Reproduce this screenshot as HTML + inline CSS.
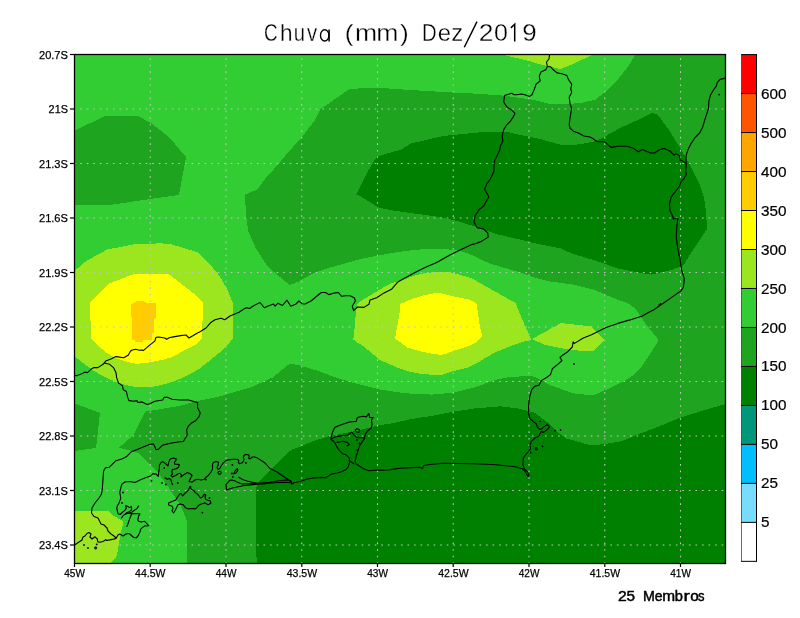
<!DOCTYPE html>
<html><head><meta charset="utf-8"><title>Chuva (mm) Dez/2019</title>
<style>html,body{margin:0;padding:0;background:#fff;}svg{display:block;will-change:transform;}</style>
</head><body>
<svg width="800" height="618" viewBox="0 0 800 618">
<rect width="800" height="618" fill="#fff"/>
<rect x="74" y="54" width="651" height="509" fill="#32cd32"/>
<g shape-rendering="crispEdges">
<polygon fill="#1ea41e" points="186.6,563.0 725.0,563.0 725.0,54.0 636.0,54.0 627.0,68.0 618.0,79.4 606.6,90.8 595.3,99.8 579.4,103.2 561.0,104.3 550.0,104.0 534.5,100.0 504.7,95.7 475.0,93.6 432.5,91.4 400.0,89.3 385.0,88.2 361.7,88.2 349.0,89.3 336.0,98.4 325.6,105.7 320.0,109.5 315.0,120.0 302.0,137.0 285.0,156.0 278.9,163.8 266.0,177.6 257.6,189.3 244.9,194.6 246.0,213.7 248.0,230.7 255.5,247.7 268.0,267.0 289.5,285.0 298.0,281.9 315.0,272.3 332.0,267.0 360.0,259.2 375.0,256.2 390.0,253.3 405.0,251.0 420.0,249.5 440.5,248.5 460.0,250.8 470.5,254.5 479.5,259.0 490.0,263.5 505.0,268.0 520.0,272.5 535.0,277.8 550.0,281.5 572.6,284.5 595.3,290.2 613.4,298.1 629.2,303.8 636.0,309.4 645.1,323.0 658.7,340.0 649.6,354.7 640.6,368.3 633.8,375.1 624.7,380.7 611.0,387.5 593.0,395.5 572.6,393.2 550.0,385.0 534.5,376.6 526.0,376.0 509.0,377.2 496.2,379.7 475.0,387.2 453.7,392.5 432.5,394.6 411.0,393.6 400.0,392.5 378.7,389.3 357.5,384.0 336.0,377.6 319.0,371.2 298.0,364.9 289.5,363.8 272.5,377.6 251.0,387.3 240.0,390.4 228.3,393.8 218.7,396.7 197.5,401.0 180.5,405.7 145.4,411.6 133.7,435.0 118.9,447.7 138.0,452.7 159.0,474.0 172.2,492.6 180.3,504.7 186.4,519.0 187.4,531.0 187.0,545.0"/>
<polygon fill="#1ea41e" points="74.0,131.0 105.0,116.0 138.0,116.0 151.0,123.0 169.0,137.0 186.0,157.0 179.0,195.0 150.0,199.0 110.0,205.0 74.0,205.0"/>
<polygon fill="#1ea41e" points="74.0,403.0 100.0,413.0 96.0,448.0 74.0,451.0"/>
<polygon fill="#008000" points="356.4,194.6 368.0,171.0 376.6,157.0 385.0,154.0 400.0,150.0 411.2,143.5 443.0,136.0 485.6,131.8 506.9,131.8 520.0,135.0 540.0,139.0 562.0,145.0 580.0,144.4 596.0,141.0 604.0,137.0 620.0,128.0 640.0,119.0 652.0,113.0 658.0,115.0 669.0,130.0 677.0,143.0 685.0,156.0 690.0,165.0 697.0,178.5 700.0,185.0 704.0,197.0 706.0,211.0 707.0,229.0 699.4,240.2 690.4,253.8 683.6,265.1 672.3,269.6 651.9,274.6 640.6,273.0 618.0,268.5 595.3,260.6 572.6,253.8 560.0,248.2 550.0,246.3 535.0,243.4 520.0,239.6 496.2,234.0 475.0,226.5 453.7,220.0 432.5,215.9 410.0,213.0 400.0,211.5 390.0,210.0 380.0,208.0 377.0,206.5 370.0,202.0 360.0,196.0"/>
<polygon fill="#008000" points="256.6,563.0 255.5,491.0 257.6,482.5 272.5,467.6 291.6,449.5 300.0,447.0 310.7,442.0 320.0,439.0 327.7,436.5 340.0,434.0 350.0,432.0 360.0,430.0 370.0,427.5 380.0,425.0 390.0,423.8 411.2,419.0 432.5,415.9 453.7,411.6 475.0,408.4 500.5,406.3 517.5,408.4 534.5,412.7 547.0,422.0 556.0,431.0 566.5,438.5 591.3,445.4 605.0,444.0 621.6,441.3 638.0,434.4 660.0,426.1 679.4,417.9 701.4,411.0 725.0,404.1 725.0,563.0"/>
<polygon fill="#9be61e" points="74.0,271.3 86.4,260.9 107.2,249.5 134.2,244.3 161.1,243.3 171.5,244.3 198.5,252.6 208.9,263.0 219.2,275.4 227.5,289.9 232.7,302.4 233.0,338.0 228.0,345.0 219.2,352.8 208.0,362.0 198.5,369.4 188.0,375.0 177.8,379.8 167.0,383.5 157.0,386.0 147.0,387.5 136.3,387.1 126.0,385.0 115.5,381.9 105.0,377.0 94.8,371.5 85.0,364.5 74.0,356.0"/>
<polygon fill="#9be61e" points="357.0,304.0 362.5,300.0 375.0,292.5 387.5,285.0 397.5,281.2 406.2,278.8 412.5,276.2 421.2,273.8 431.2,272.5 440.0,271.9 450.0,272.2 460.0,274.8 472.0,278.5 482.5,284.5 492.4,290.0 502.6,295.8 515.7,303.1 521.5,317.7 527.3,330.8 531.0,339.5 521.5,342.4 512.8,345.3 498.2,351.1 486.6,357.0 477.8,362.8 469.1,367.1 454.6,370.8 442.0,375.0 432.5,374.8 420.0,373.8 407.5,371.2 397.5,367.5 388.8,363.8 380.0,360.0 372.5,353.8 365.0,347.5 357.5,342.5 353.1,339.4 353.8,337.5 355.0,322.5 356.2,310.0"/>
<polygon fill="#9be61e" points="532.0,339.0 545.0,332.0 561.0,323.0 591.0,326.4 604.3,340.0 593.0,351.3 572.6,350.2 560.0,348.0 545.0,345.0"/>
<polygon fill="#9be61e" points="499.0,54.0 527.5,60.5 542.5,65.0 560.5,69.0 574.0,63.5 594.0,54.0"/>
<polygon fill="#9be61e" points="74.0,511.0 108.0,511.0 114.0,516.0 123.0,521.0 122.5,526.0 121.6,530.0 119.9,538.5 118.8,544.2 117.7,551.5 116.0,557.2 112.0,561.7 110.9,563.0 74.0,563.0"/>
<polygon fill="#ffff00" points="90.0,303.0 108.0,284.0 134.0,274.0 168.0,274.0 170.0,275.0 197.0,296.0 203.0,303.0 202.0,339.0 196.0,344.6 183.0,351.0 172.0,357.2 162.7,359.8 149.7,362.4 136.8,363.9 126.4,361.7 114.7,357.8 105.7,352.0 97.9,345.5 91.0,338.0"/>
<polygon fill="#ffff00" points="400.0,303.8 403.8,302.5 412.5,298.8 425.0,295.0 437.5,292.5 440.0,292.9 454.6,296.6 469.1,299.5 476.4,303.1 477.8,311.8 479.3,323.5 482.2,336.6 476.4,342.4 469.1,346.0 454.6,350.4 445.0,354.3 440.0,354.8 432.5,353.8 420.0,351.2 407.5,347.5 398.8,341.2 395.0,338.8 395.6,335.0 397.5,325.0 400.0,310.0"/>
<polygon fill="#ffcc00" points="131.3,304.0 135.0,302.5 136.0,301.3 144.0,301.3 146.0,302.5 150.0,303.3 156.0,303.5 155.5,318.0 153.7,319.0 153.7,332.5 152.0,333.0 152.0,340.0 143.0,340.0 142.7,341.5 135.5,341.5 135.0,340.0 132.0,340.0 132.0,317.0 131.3,316.5"/>
</g>
<g fill="none" stroke="#c4c4c4" stroke-width="1.1" stroke-dasharray="1.6 4.945">
<line x1="150.25" y1="563.85" x2="150.25" y2="54"/>
<line x1="226.00" y1="563.85" x2="226.00" y2="54"/>
<line x1="301.75" y1="563.85" x2="301.75" y2="54"/>
<line x1="377.50" y1="563.85" x2="377.50" y2="54"/>
<line x1="453.25" y1="563.85" x2="453.25" y2="54"/>
<line x1="529.00" y1="563.85" x2="529.00" y2="54"/>
<line x1="604.75" y1="563.85" x2="604.75" y2="54"/>
<line x1="680.50" y1="563.85" x2="680.50" y2="54"/>
<line x1="73.70" y1="109.00" x2="725" y2="109.00"/>
<line x1="73.70" y1="163.50" x2="725" y2="163.50"/>
<line x1="73.70" y1="218.00" x2="725" y2="218.00"/>
<line x1="73.70" y1="272.50" x2="725" y2="272.50"/>
<line x1="73.70" y1="327.00" x2="725" y2="327.00"/>
<line x1="73.70" y1="381.50" x2="725" y2="381.50"/>
<line x1="73.70" y1="436.00" x2="725" y2="436.00"/>
<line x1="73.70" y1="490.50" x2="725" y2="490.50"/>
<line x1="73.70" y1="545.00" x2="725" y2="545.00"/>
</g>
<g fill="none" stroke="#000" stroke-width="1.1" stroke-linejoin="round" stroke-linecap="round">
<polyline points="547.4,66.5 545.8,69.7 540.9,72.1 539.3,76.2 540.1,81.0 536.0,84.3 534.4,89.1 532.0,94.8 529.6,96.4 524.7,94.8 521.5,94.0 516.6,94.8 514.2,94.8 511.8,93.2 508.5,94.3 504.5,95.6 503.7,102.0 506.9,106.9 511.8,110.2 515.0,113.4 513.4,116.6 510.2,121.5 506.9,124.7 503.7,129.6 502.1,136.0 502.9,140.9 500.5,145.8 499.6,150.6 497.2,155.5 494.8,160.0 494.0,164.7 494.0,171.2 490.0,179.7 486.7,184.0 484.6,189.3 488.8,196.7 483.5,206.3 479.2,209.5 475.0,216.0 474.0,222.2 477.1,227.6 483.5,229.0 487.7,232.9 488.2,237.1 481.4,241.4 476.0,243.5 471.8,244.6 460.1,249.9 449.5,255.2 436.7,262.6 426.1,266.9 415.5,272.2 402.7,279.2 400.0,280.8 397.9,281.9 391.5,289.3 383.0,293.6 376.6,297.8 370.0,300.0 369.0,304.2 363.9,307.4 357.5,307.0 353.7,310.6 352.2,306.3 355.4,301.0 354.3,297.8 350.0,295.7 345.8,295.7 341.6,296.3 338.4,292.5 334.0,293.1 328.8,294.6 325.6,292.5 321.4,292.5 320.0,293.5 311.0,301.0 305.0,304.0 302.0,303.7 299.0,301.0 296.0,304.0 290.8,306.2 287.0,300.2 282.5,305.5 278.0,303.2 275.0,306.2 273.5,304.0 267.5,306.2 264.5,307.8 260.0,302.5 254.0,305.5 249.5,308.5 246.5,307.8 243.5,309.2 239.0,312.2 230.0,316.0 224.8,319.8 221.0,318.2 215.0,319.8 210.5,322.8 206.0,328.0 200.0,331.8 197.5,333.0 189.0,338.0 186.0,335.0 180.5,335.6 172.0,337.1 169.2,337.7 166.6,339.3 164.7,338.0 158.9,337.0 156.3,337.3 155.6,338.0 155.0,340.9 148.5,346.1 143.3,350.6 142.3,350.0 139.4,350.3 135.5,349.3 131.7,350.3 130.4,351.3 128.4,355.0 123.8,357.8 116.0,356.6 110.9,359.1 105.7,361.1 103.1,364.3 97.9,367.6 94.0,367.6 91.4,368.9 87.5,372.7 85.0,372.1 82.4,373.4 77.2,375.6 74.5,375.5"/>
<polyline points="547.4,66.5 546.5,62.0 549.0,59.0 549.5,54.5"/>
<polyline points="547.4,66.5 550.6,66.8 553.0,69.5 557.1,72.9 562.0,73.8 566.8,75.4 568.4,79.4 571.7,84.3 570.8,89.1 571.7,92.4 569.2,97.2 570.0,103.7 571.7,108.5 570.8,113.4 570.0,118.3 569.2,124.7 570.0,128.0 573.3,131.2 578.3,133.0 584.0,136.0 590.8,137.2 597.5,141.7 604.3,141.7 611.1,147.4 618.0,146.2 627.0,146.2 633.8,148.5 638.3,151.9 642.4,149.4 650.5,153.0 654.6,153.0 659.4,149.8 664.3,148.4 669.9,151.0 674.0,155.0 676.4,153.8 679.6,155.9 680.0,159.9 682.0,160.6 685.7,163.1"/>
<polyline points="104.4,363.0 109.6,364.3 113.5,367.6 116.0,372.7 116.7,377.9 118.6,383.1 122.5,385.7 123.2,389.6 126.4,391.5 127.7,397.4 129.0,400.6 134.2,401.2 136.8,400.6 138.0,402.5 142.0,401.9 147.1,404.5 149.7,403.8 154.9,401.2 162.7,400.0 164.0,397.4 167.9,397.4 172.0,399.3 180.0,400.0 188.5,400.0 197.6,402.6 197.6,407.8 200.2,413.0 198.9,416.8 195.6,420.7 191.1,423.3 188.5,425.9 186.6,429.8 187.2,435.0 185.3,438.2 183.3,441.5 178.1,442.0 172.0,443.0 167.7,443.9 162.5,445.2 158.7,449.1 156.1,449.7 153.5,443.9 149.6,444.5 144.4,446.5 136.6,449.7 131.5,451.7 126.3,456.8 122.4,458.8 115.9,460.7 112.0,464.6 109.4,467.2 105.5,467.8 103.6,471.1 103.0,478.9 102.3,489.2 101.5,494.0 99.0,498.0 95.0,503.0 92.0,508.0 91.5,513.0 94.0,516.5 98.0,518.0 100.0,522.0 101.0,524.0 104.0,525.0 107.0,528.0 108.0,531.0 111.0,534.0 114.0,536.0 116.0,538.0"/>
<polyline points="74.5,545.0 76.0,544.0 79.0,542.0 82.0,540.0 83.0,537.0 85.0,536.0 87.0,533.5 89.0,532.5 91.0,534.0 90.0,537.0 92.0,539.0 95.0,536.8 97.3,539.0 97.8,541.9 100.1,542.2 103.5,541.3 105.8,539.6 106.3,540.5 109.7,539.9 113.7,539.1 116.0,538.5 118.0,535.0 120.0,534.0 123.0,536.0 126.0,534.0 129.0,533.5 131.0,535.0 133.0,537.0 136.0,538.0 138.0,536.0 140.0,532.0 140.5,529.4 142.6,527.4 144.6,526.0 148.7,525.7 146.6,523.3 144.6,521.3 141.2,522.0 138.5,521.3 137.8,519.9 138.5,516.5 139.9,513.8 135.8,513.5 131.7,513.8 129.7,513.1 125.6,513.8 122.9,515.9 121.5,517.9"/>
<polyline points="131.7,513.8 130.3,517.2 129.0,520.6 127.6,524.7 126.9,526.4"/>
<polyline points="125.6,513.8 129.7,513.1 132.4,511.8 135.1,509.7 137.1,508.4 138.5,506.0"/>
<polyline points="120.2,514.5 122.2,512.5 124.9,510.4 126.3,508.4 125.6,505.7 127.6,506.3 129.7,507.7 131.4,506.3 131.7,509.1 131.0,510.4 129.0,511.8 127.0,512.5 125.6,513.8"/>
<polyline points="120.2,514.5 118.1,513.8 117.4,511.1 116.8,508.4 117.4,505.7 118.8,503.6 119.8,500.9 120.8,498.2 120.2,494.8 119.8,492.0 120.8,488.0 121.0,487.0 122.0,484.0 125.0,482.0 130.0,481.5 135.0,482.5 140.0,480.0 146.0,477.5 150.0,476.3 153.0,473.6 156.0,474.0 158.3,476.3 158.6,472.5 159.4,468.8 159.4,465.0 161.3,462.4 162.8,461.6 165.0,463.1 168.0,465.8 168.8,462.0 170.3,459.0 173.3,457.9 176.3,459.0 175.5,461.3 174.4,462.0 174.8,464.3 177.0,464.3 179.3,464.6 178.5,467.3 176.3,468.8 172.5,469.5 171.8,471.8 172.5,474.0 171.0,475.5 172.5,477.0 175.5,475.5 177.8,474.0 180.0,473.3 181.5,474.8 180.8,477.0 183.8,474.8 187.5,472.5 190.5,474.0 192.0,475.5 190.5,478.5 189.0,481.5 192.0,482.3 195.0,480.0 198.0,479.3 201.0,480.0 204.0,479.3 206.3,477.0 208.0,475.8 211.0,472.0 212.5,469.0 212.5,464.5 213.3,462.6 216.3,461.5 218.5,462.3 218.1,465.3 217.0,467.5 218.1,469.4 220.0,468.3 221.5,465.3 223.8,462.3 226.0,460.4 229.8,459.6 235.0,459.3 238.0,459.6 238.8,461.1 238.4,462.6 239.5,463.8 241.8,463.0 243.3,461.5 244.0,459.3 243.3,457.8 244.0,455.5 245.5,454.4 248.5,454.8 249.3,456.3 248.5,458.1 250.0,458.9 252.3,457.0 254.5,457.0 257.5,458.1 260.5,460.0 265.0,463.0 270.0,468.5 277.5,472.2 285.0,477.5 291.0,481.2 291.7,484.2 294.0,482.7 300.0,481.5 306.5,479.3 313.0,478.0 319.4,477.4 325.9,477.6 331.3,474.1 337.0,473.0 341.5,471.8 346.0,469.6 348.3,466.7 349.4,462.8 349.4,458.2 346.0,454.8 342.6,453.7 339.3,450.3 337.0,446.9 334.7,442.4 330.8,439.0 332.5,432.2 334.7,427.6 338.1,426.0 342.6,424.3 349.4,422.0 356.2,421.4 357.4,417.5 363.0,416.3 366.4,416.9 368.7,413.5 369.8,417.5 373.2,417.5 371.5,419.7 372.1,424.3 371.5,427.6 367.6,431.0 365.3,434.4 364.2,439.0 361.9,442.4 359.6,445.8 358.5,449.2 357.4,452.6 356.2,456.0 355.1,461.6 356.2,463.9 359.6,466.2 363.0,468.4 368.7,470.7 376.6,470.1 383.4,470.1 390.0,469.6 400.0,468.3 411.2,467.6 420.0,467.3 422.3,468.6 424.0,465.5 430.0,464.5 443.0,463.3 475.0,463.7 496.2,464.7 515.5,466.8 522.3,468.7 525.2,471.7 528.2,476.5 529.1,474.6 527.2,471.7 524.3,468.7 522.9,464.9 523.3,458.1 526.3,453.8 528.8,451.3 530.6,448.8 530.0,445.0 531.3,441.3 535.0,438.0 538.8,436.3 541.3,431.3 543.1,432.5 545.0,431.3 548.1,428.8 549.4,426.9 547.5,424.4 543.8,426.9 541.9,428.8 540.0,429.4 537.5,427.5 536.3,423.8 533.8,421.9 530.0,418.8 528.8,413.8 528.5,407.5 529.1,400.8 530.1,395.0 532.0,389.1 535.0,386.2 538.8,385.2 541.7,380.4 546.6,377.5 550.5,374.6 552.4,368.7 558.3,363.9 562.0,360.5 560.0,357.5 561.8,355.8 567.0,352.3 572.3,347.0 573.1,341.8 574.0,343.5 575.8,342.6 582.8,338.3 591.5,334.8 605.5,327.8 617.8,323.4 630.0,319.9 642.3,315.9 649.3,312.0 654.5,309.4 658.0,306.8 663.3,303.3 672.0,297.1 680.8,291.0 683.4,287.5 684.3,278.8 681.6,270.0 680.2,260.6 677.9,249.2 676.3,237.9 676.8,226.6 677.9,218.7 673.4,218.7 672.3,215.3 670.0,210.8 669.5,204.0 671.1,197.2 674.5,192.6 679.0,187.0 681.3,181.3 684.1,178.5 686.5,174.0 685.7,172.0 686.1,164.8 685.9,158.3 686.2,155.1 688.2,149.3 691.1,143.5 695.0,137.7 699.8,132.8 702.7,127.0 704.7,120.2 706.6,114.4 708.5,108.5 708.9,100.8 710.5,95.0 713.4,90.1 716.3,86.2 717.3,82.3 720.2,79.4 724.1,78.4 725.0,78.0"/>
<polyline points="330.8,439.0 335.9,436.7 342.6,435.6 348.3,435.0 351.7,432.2 354.0,435.0 357.4,437.8 361.9,437.8 364.7,438.4"/>
<polyline points="337.0,442.4 342.6,441.2 347.2,442.4 349.4,444.6 347.2,445.8"/>
<polyline points="355.1,430.0 357.0,428.8 359.6,429.5 359.0,432.2 356.5,432.0 355.1,430.0"/>
<polyline points="349.4,460.5 352.0,462.5 354.0,463.9"/>
<polyline points="226.0,484.5 229.8,480.3 232.0,480.0 235.0,481.0 238.0,482.5 242.5,484.0 255.0,483.6 270.0,482.2 279.0,480.7 288.0,479.9 291.0,481.2"/>
<polyline points="226.0,484.5 226.5,490.0 232.5,488.0 243.0,485.7 255.0,484.4 270.0,482.9 285.0,482.2 291.0,482.7"/>
<polyline points="238.8,477.3 242.5,479.5 247.0,481.0 253.0,482.5 257.5,483.3 265.0,484.0"/>
<polyline points="165.0,477.8 167.3,479.3 169.5,478.5 171.0,480.0 171.8,483.0 172.5,484.5"/>
<polyline points="233.6,474.0 235.0,471.0 237.5,468.5 237.8,470.5 236.0,473.0 233.6,474.0"/>
<polyline points="190.0,486.8 188.5,489.8 187.0,491.3 184.8,493.5 182.5,495.8 181.0,493.5 179.5,494.3 177.3,497.3 175.8,499.9 172.0,501.4 168.6,502.9 168.6,505.1 172.0,506.3 173.1,508.5 172.0,510.8 173.5,513.0 175.0,510.8 176.5,507.8 178.0,504.8 180.3,504.0 183.3,504.8 185.5,507.8 188.5,508.9 192.3,508.5 195.3,508.9 197.5,507.0 198.3,505.5 201.3,504.0 205.0,502.9 208.0,504.8 211.0,503.3 210.3,501.0 208.0,500.3 205.8,499.5 205.0,497.3 205.8,495.0 204.3,494.3 202.0,497.3 200.5,498.0 198.3,495.0 196.8,493.5 195.3,492.8 194.5,491.3 192.3,489.8 190.8,488.3 190.0,486.8"/>
<circle cx="219.6" cy="472.8" r="1.6"/>
<circle cx="95.6" cy="548" r="0.9"/>
<circle cx="536.3" cy="448.8" r="1.1"/>
<circle cx="202.4" cy="512.6" r="0.9" fill="#000" stroke="none"/>
<circle cx="209.5" cy="498" r="0.9" fill="#000" stroke="none"/>
<circle cx="123" cy="492.5" r="0.9" fill="#000" stroke="none"/>
<circle cx="122" cy="503" r="0.9" fill="#000" stroke="none"/>
<circle cx="719.2" cy="94.6" r="0.9" fill="#000" stroke="none"/>
<circle cx="574" cy="364" r="0.9" fill="#000" stroke="none"/>
<circle cx="540" cy="421.3" r="0.9" fill="#000" stroke="none"/>
<circle cx="555" cy="430.6" r="0.9" fill="#000" stroke="none"/>
<circle cx="560.6" cy="430" r="0.9" fill="#000" stroke="none"/>
<circle cx="542.5" cy="446.3" r="0.9" fill="#000" stroke="none"/>
<circle cx="530.6" cy="452.5" r="0.9" fill="#000" stroke="none"/>
<circle cx="232.4" cy="464.9" r="0.9" fill="#000" stroke="none"/>
<circle cx="245.9" cy="463" r="0.9" fill="#000" stroke="none"/>
<circle cx="232.8" cy="476.9" r="0.9" fill="#000" stroke="none"/>
<circle cx="232" cy="473.5" r="0.9" fill="#000" stroke="none"/>
<circle cx="205.8" cy="479.5" r="0.9" fill="#000" stroke="none"/>
<circle cx="162" cy="483" r="0.9" fill="#000" stroke="none"/>
<circle cx="165.8" cy="484.5" r="0.9" fill="#000" stroke="none"/>
<circle cx="177.8" cy="483" r="0.9" fill="#000" stroke="none"/>
<circle cx="151.5" cy="480.8" r="0.9" fill="#000" stroke="none"/>
<circle cx="164.3" cy="468" r="0.9" fill="#000" stroke="none"/>
<circle cx="190.5" cy="486.8" r="0.9" fill="#000" stroke="none"/>
<circle cx="96.7" cy="544.4" r="0.9" fill="#000" stroke="none"/>
<circle cx="84" cy="545" r="0.9" fill="#000" stroke="none"/>
<circle cx="88" cy="548" r="0.9" fill="#000" stroke="none"/>
<circle cx="357" cy="440" r="0.9" fill="#000" stroke="none"/>
<circle cx="359.6" cy="443.5" r="0.9" fill="#000" stroke="none"/>
<circle cx="357.4" cy="450.3" r="0.9" fill="#000" stroke="none"/>
<circle cx="368.7" cy="414.5" r="0.9" fill="#000" stroke="none"/>
<circle cx="673.5" cy="218.5" r="0.9" fill="#000" stroke="none"/>
<circle cx="659.5" cy="305" r="0.9" fill="#000" stroke="none"/>
<circle cx="660.5" cy="304" r="0.9" fill="#000" stroke="none"/>
</g>
<rect x="74.5" y="54.5" width="651" height="509" fill="none" stroke="#000" stroke-width="1.3"/>
<g stroke="#000" stroke-width="1.2"><line x1="70" y1="54.50" x2="74" y2="54.50"/><line x1="70" y1="109.00" x2="74" y2="109.00"/><line x1="70" y1="163.50" x2="74" y2="163.50"/><line x1="70" y1="218.00" x2="74" y2="218.00"/><line x1="70" y1="272.50" x2="74" y2="272.50"/><line x1="70" y1="327.00" x2="74" y2="327.00"/><line x1="70" y1="381.50" x2="74" y2="381.50"/><line x1="70" y1="436.00" x2="74" y2="436.00"/><line x1="70" y1="490.50" x2="74" y2="490.50"/><line x1="70" y1="545.00" x2="74" y2="545.00"/><line x1="74.5" y1="563" x2="74.5" y2="567"/><line x1="150.2" y1="563" x2="150.2" y2="567"/><line x1="226.0" y1="563" x2="226.0" y2="567"/><line x1="301.8" y1="563" x2="301.8" y2="567"/><line x1="377.5" y1="563" x2="377.5" y2="567"/><line x1="453.2" y1="563" x2="453.2" y2="567"/><line x1="529.0" y1="563" x2="529.0" y2="567"/><line x1="604.8" y1="563" x2="604.8" y2="567"/><line x1="680.5" y1="563" x2="680.5" y2="567"/></g>
<g font-family="&quot;Liberation Sans&quot;, sans-serif" font-size="11.7" fill="#000" stroke="#000" stroke-width="0.25"><text x="67.9" y="58.7" text-anchor="end" textLength="28.9" lengthAdjust="spacingAndGlyphs">20.7S</text><text x="67.9" y="113.2" text-anchor="end" textLength="19.3" lengthAdjust="spacingAndGlyphs">21S</text><text x="67.9" y="167.7" text-anchor="end" textLength="28.9" lengthAdjust="spacingAndGlyphs">21.3S</text><text x="67.9" y="222.2" text-anchor="end" textLength="28.9" lengthAdjust="spacingAndGlyphs">21.6S</text><text x="67.9" y="276.7" text-anchor="end" textLength="28.9" lengthAdjust="spacingAndGlyphs">21.9S</text><text x="67.9" y="331.2" text-anchor="end" textLength="28.9" lengthAdjust="spacingAndGlyphs">22.2S</text><text x="67.9" y="385.7" text-anchor="end" textLength="28.9" lengthAdjust="spacingAndGlyphs">22.5S</text><text x="67.9" y="440.2" text-anchor="end" textLength="28.9" lengthAdjust="spacingAndGlyphs">22.8S</text><text x="67.9" y="494.7" text-anchor="end" textLength="28.9" lengthAdjust="spacingAndGlyphs">23.1S</text><text x="67.9" y="549.2" text-anchor="end" textLength="28.9" lengthAdjust="spacingAndGlyphs">23.4S</text><text x="74.6" y="577.1" text-anchor="middle" textLength="20.7" lengthAdjust="spacingAndGlyphs">45W</text><text x="150.3" y="577.1" text-anchor="middle" textLength="30.4" lengthAdjust="spacingAndGlyphs">44.5W</text><text x="226.1" y="577.1" text-anchor="middle" textLength="20.7" lengthAdjust="spacingAndGlyphs">44W</text><text x="301.9" y="577.1" text-anchor="middle" textLength="30.4" lengthAdjust="spacingAndGlyphs">43.5W</text><text x="377.6" y="577.1" text-anchor="middle" textLength="20.7" lengthAdjust="spacingAndGlyphs">43W</text><text x="453.4" y="577.1" text-anchor="middle" textLength="30.4" lengthAdjust="spacingAndGlyphs">42.5W</text><text x="529.1" y="577.1" text-anchor="middle" textLength="20.7" lengthAdjust="spacingAndGlyphs">42W</text><text x="604.9" y="577.1" text-anchor="middle" textLength="30.4" lengthAdjust="spacingAndGlyphs">41.5W</text><text x="680.6" y="577.1" text-anchor="middle" textLength="20.7" lengthAdjust="spacingAndGlyphs">41W</text></g>
<g font-family="&quot;Liberation Sans&quot;, sans-serif" font-size="14" fill="#000"><rect x="741.3" y="54.60" width="15.2" height="38.98" fill="#ff0000"/><rect x="741.3" y="93.58" width="15.2" height="38.98" fill="#ff5500"/><rect x="741.3" y="132.56" width="15.2" height="38.98" fill="#ffa500"/><rect x="741.3" y="171.54" width="15.2" height="38.98" fill="#ffcc00"/><rect x="741.3" y="210.52" width="15.2" height="38.98" fill="#ffff00"/><rect x="741.3" y="249.50" width="15.2" height="38.98" fill="#9be61e"/><rect x="741.3" y="288.48" width="15.2" height="38.98" fill="#32cd32"/><rect x="741.3" y="327.46" width="15.2" height="38.98" fill="#1ea41e"/><rect x="741.3" y="366.44" width="15.2" height="38.98" fill="#008000"/><rect x="741.3" y="405.42" width="15.2" height="38.98" fill="#00967a"/><rect x="741.3" y="444.40" width="15.2" height="38.98" fill="#00beff"/><rect x="741.3" y="483.38" width="15.2" height="38.98" fill="#78dcff"/><rect x="741.3" y="522.36" width="15.2" height="38.98" fill="#ffffff"/><line x1="741.5" y1="54.60" x2="741.5" y2="561.34" stroke="#444" stroke-width="0.8"/><line x1="756.5" y1="54.60" x2="756.5" y2="561.34" stroke="#000" stroke-width="1"/><line x1="741.1" y1="54.60" x2="757" y2="54.60" stroke="#000" stroke-width="1"/><line x1="741.1" y1="93.58" x2="757" y2="93.58" stroke="#000" stroke-width="1"/><line x1="741.1" y1="132.56" x2="757" y2="132.56" stroke="#000" stroke-width="1"/><line x1="741.1" y1="171.54" x2="757" y2="171.54" stroke="#000" stroke-width="1"/><line x1="741.1" y1="210.52" x2="757" y2="210.52" stroke="#000" stroke-width="1"/><line x1="741.1" y1="249.50" x2="757" y2="249.50" stroke="#000" stroke-width="1"/><line x1="741.1" y1="288.48" x2="757" y2="288.48" stroke="#000" stroke-width="1"/><line x1="741.1" y1="327.46" x2="757" y2="327.46" stroke="#000" stroke-width="1"/><line x1="741.1" y1="366.44" x2="757" y2="366.44" stroke="#000" stroke-width="1"/><line x1="741.1" y1="405.42" x2="757" y2="405.42" stroke="#000" stroke-width="1"/><line x1="741.1" y1="444.40" x2="757" y2="444.40" stroke="#000" stroke-width="1"/><line x1="741.1" y1="483.38" x2="757" y2="483.38" stroke="#000" stroke-width="1"/><line x1="741.1" y1="522.36" x2="757" y2="522.36" stroke="#000" stroke-width="1"/><line x1="741.1" y1="561.34" x2="757" y2="561.34" stroke="#000" stroke-width="1"/><text x="760.9" y="98.6" stroke="#000" stroke-width="0.2" textLength="25.5" lengthAdjust="spacingAndGlyphs">600</text><text x="760.9" y="137.6" stroke="#000" stroke-width="0.2" textLength="25.5" lengthAdjust="spacingAndGlyphs">500</text><text x="760.9" y="176.5" stroke="#000" stroke-width="0.2" textLength="25.5" lengthAdjust="spacingAndGlyphs">400</text><text x="760.9" y="215.5" stroke="#000" stroke-width="0.2" textLength="25.5" lengthAdjust="spacingAndGlyphs">350</text><text x="760.9" y="254.5" stroke="#000" stroke-width="0.2" textLength="25.5" lengthAdjust="spacingAndGlyphs">300</text><text x="760.9" y="293.5" stroke="#000" stroke-width="0.2" textLength="25.5" lengthAdjust="spacingAndGlyphs">250</text><text x="760.9" y="332.5" stroke="#000" stroke-width="0.2" textLength="25.5" lengthAdjust="spacingAndGlyphs">200</text><text x="760.9" y="371.4" stroke="#000" stroke-width="0.2" textLength="25.5" lengthAdjust="spacingAndGlyphs">150</text><text x="760.9" y="410.4" stroke="#000" stroke-width="0.2" textLength="25.5" lengthAdjust="spacingAndGlyphs">100</text><text x="760.9" y="449.4" stroke="#000" stroke-width="0.2" textLength="17.0" lengthAdjust="spacingAndGlyphs">50</text><text x="760.9" y="488.4" stroke="#000" stroke-width="0.2" textLength="17.0" lengthAdjust="spacingAndGlyphs">25</text><text x="760.9" y="527.4" stroke="#000" stroke-width="0.2" textLength="8.5" lengthAdjust="spacingAndGlyphs">5</text></g>
<g font-family="&quot;Liberation Sans&quot;, sans-serif" font-size="24" fill="#000" stroke="#fff" stroke-width="0.3" paint-order="fill"><text transform="translate(264.05,41.4) scale(0.789,1)">C</text><text transform="translate(279.90,41.4) scale(0.941,1)">h</text><text transform="translate(293.65,41.4) scale(0.842,1)">u</text><text transform="translate(306.92,41.4) scale(0.847,1)">v</text><text transform="translate(344.86,41.4) scale(1.095,1)">(</text><text transform="translate(355.03,41.4) scale(1.107,1)">m</text><text transform="translate(376.33,41.4) scale(1.107,1)">m</text><text transform="translate(399.88,41.4) scale(1.095,1)">)</text><text transform="translate(422.06,41.4) scale(0.845,1)">D</text><text transform="translate(437.75,41.4) scale(0.996,1)">e</text><text transform="translate(451.26,41.4) scale(0.995,1)">z</text><text transform="translate(478.68,41.4) scale(1.101,1)">2</text><text transform="translate(494.06,41.4) scale(1.043,1)">0</text><text transform="translate(522.31,41.4) scale(1.081,1)">9</text></g>
<line x1="464.3" y1="47.2" x2="477" y2="21.6" stroke="#000" stroke-width="1.45"/>
<path d="M510.9 27.9 L514.7 24.3 L514.7 41.6" fill="none" stroke="#000" stroke-width="1.5" stroke-linejoin="miter"/>
<ellipse cx="324.7" cy="35.4" rx="4.2" ry="5.6" fill="none" stroke="#000" stroke-width="1.4"/><line x1="329.1" y1="29.4" x2="329.1" y2="41.6" stroke="#000" stroke-width="1.5"/>
<g font-family="&quot;Liberation Sans&quot;, sans-serif" font-size="14" fill="#000" stroke="#000" stroke-width="0.45"><text transform="translate(618.01,601.4) scale(1.125,1)">2</text><text transform="translate(626.55,601.4) scale(1.091,1)">5</text><text transform="translate(642.88,601.4) scale(1.021,1)">M</text><text transform="translate(654.80,601.4) scale(1.000,1)">e</text><text transform="translate(662.21,601.4) scale(1.102,1)">m</text><text transform="translate(674.86,601.4) scale(1.048,1)">b</text><text transform="translate(683.57,601.4) scale(1.371,1)">r</text><text transform="translate(690.15,601.4) scale(1.091,1)">o</text><text transform="translate(697.93,601.4) scale(0.934,1)">s</text></g>
</svg>
</body></html>
